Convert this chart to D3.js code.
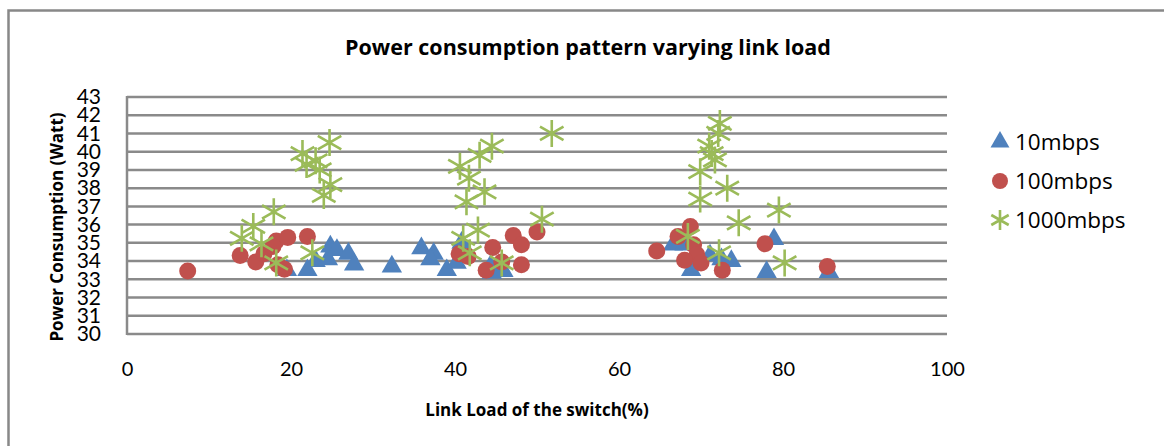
<!DOCTYPE html>
<html>
<head>
<meta charset="utf-8">
<script src="https://cdn.jsdelivr.net/npm/d3@7"></script>
<style>
  body { margin: 0; background: #fff; }
  text { font-family: Lato, "Open Sans", sans-serif; fill: #000; }
  .bold { font-family: "Open Sans", sans-serif; font-weight: bold; }
</style>
</head>
<body>
<div class="chart"></div>
<script>
// series values: link load (%) and power (Watt)
const load10 = [19.5, 22.0, 23.0, 24.5, 24.8, 25.6, 27.0, 27.7, 32.3,
    35.9, 37.4, 37.0, 39.0, 40.2, 40.8, 44.3, 44.5, 45.9,
    66.6, 68.0, 68.8, 71.1, 72.5, 73.7, 78.9, 78.0, 85.6];
const power10 = [33.5, 33.5, 34.0, 34.1, 34.8, 34.6, 34.4, 33.8, 33.7,
    34.7, 34.4, 34.1, 33.5, 33.9, 35.0, 33.7, 33.35, 33.45,
    34.9, 34.9, 33.5, 34.3, 34.1, 34.0, 35.2, 33.4, 33.4];

const load100 = [7.4, 13.8, 15.7, 16.7, 18.2, 17.8, 18.4, 19.2, 19.6, 22.0,
    40.5, 41.6, 44.6, 43.8, 45.7, 47.1, 48.1, 48.1, 50.0,
    64.6, 67.2, 68.7, 69.1, 69.5, 68.0, 70.0, 72.6, 77.8, 85.4];
const power100 = [33.45, 34.3, 33.95, 34.4, 35.1, 34.8, 33.8, 33.55, 35.3, 35.35,
    34.4, 34.25, 34.75, 33.5, 33.95, 35.4, 34.9, 33.8, 35.6,
    34.55, 35.35, 35.9, 34.9, 34.35, 34.05, 33.9, 33.5, 34.95, 33.7];

const load1000 = [14.0, 15.4, 16.4, 17.9, 18.2, 22.6, 21.4, 21.9, 23.0, 23.5, 24.7, 24.8, 24.0,
    51.8, 44.5, 43.0, 40.6, 41.7, 43.6, 41.4, 42.8, 41.0, 41.8, 45.7, 50.6,
    72.3, 72.1, 71.0, 71.3, 71.7, 69.9, 73.2, 69.9, 74.6, 79.5, 68.4, 72.2, 80.2];
const power1000 = [35.25, 35.9, 34.95, 36.7, 33.9, 34.45, 39.9, 39.3, 39.5, 39.0, 40.5, 38.2, 37.6,
    41.0, 40.3, 39.8, 39.2, 38.55, 37.8, 37.25, 35.7, 35.25, 34.45, 33.9, 36.3,
    41.55, 41.0, 40.3, 39.9, 39.55, 38.9, 38.0, 37.4, 36.1, 36.8, 35.35, 34.45, 33.9];

const seriesNames = ["10mbps", "100mbps", "1000mbps"];
const seriesColors = ["#4f81bd", "#c0504d", "#9bbb59"];
const xTicks = [0, 20, 40, 60, 80, 100];
const yTicks = d3.range(30, 44);

const chartTitle = "Power consumption pattern varying link load";
const xTitle = "Link Load of the switch(%)";
const yTitle = "Power Consumption (Watt)";

const w = 1164;
const h = 446;
const plot = { left: 127, right: 947, top: 97, bottom: 334 };

const svg = d3.select(".chart")
    .append("svg")
    .attr("width", w)
    .attr("height", h);

// outer frame (top and left edges visible)
svg.append("path")
    .attr("d", "M8.5," + h + "V10.5H" + w)
    .attr("fill", "none")
    .attr("stroke", "#888")
    .attr("stroke-width", 2.5);

const xScale = d3.scaleLinear().domain([0, 100]).range([plot.left, plot.right]);
const yScale = d3.scaleLinear().domain([30, 43]).range([plot.bottom, plot.top]);

// horizontal grid
svg.append("g")
    .selectAll("line")
    .data(yTicks)
    .enter()
    .append("line")
    .attr("x1", plot.left)
    .attr("x2", plot.right)
    .attr("y1", d => yScale(d))
    .attr("y2", d => yScale(d))
    .attr("stroke", "#8a8a8a")
    .attr("stroke-width", 2.5);

svg.append("line")
    .attr("x1", plot.left)
    .attr("x2", plot.left)
    .attr("y1", plot.top - 1)
    .attr("y2", plot.bottom + 1)
    .attr("stroke", "#8a8a8a")
    .attr("stroke-width", 2.5);

const yAxis = d3.axisLeft(yScale).tickValues(yTicks).tickSize(0).tickPadding(26);
const xAxis = d3.axisBottom(xScale).tickValues(xTicks).tickSize(0).tickPadding(28);

svg.append("g")
    .attr("transform", "translate(" + plot.left + ",0)")
    .call(yAxis)
    .call(g => g.select(".domain").remove())
    .selectAll("text")
    .style("font-size", "21px");

svg.append("g")
    .attr("transform", "translate(0," + plot.bottom + ")")
    .call(xAxis)
    .call(g => g.select(".domain").remove())
    .selectAll("text")
    .style("font-size", "20px");

// titles
svg.append("text")
    .attr("class", "bold")
    .attr("x", 588)
    .attr("y", 55)
    .attr("text-anchor", "middle")
    .style("font-size", "21.5px")
    .text(chartTitle);

svg.append("text")
    .attr("class", "bold")
    .attr("x", 537)
    .attr("y", 416)
    .attr("text-anchor", "middle")
    .style("font-size", "17px")
    .text(xTitle);

svg.append("text")
    .attr("class", "bold")
    .attr("transform", "translate(63,227) rotate(-90)")
    .attr("text-anchor", "middle")
    .style("font-size", "17px")
    .text(yTitle);

const star = r => "M0," + (-r) + "V" + r +
    "M" + (-r * 0.87) + "," + (-r * 0.5) + "L" + (r * 0.87) + "," + (r * 0.5) +
    "M" + (-r * 0.87) + "," + (r * 0.5) + "L" + (r * 0.87) + "," + (-r * 0.5);

const seriesData = [
    d3.zip(load10, power10),
    d3.zip(load100, power100),
    d3.zip(load1000, power1000)
];

function drawMarker(sel, i, big) {
    if (i === 0) {
        sel.append("path")
            .attr("d", d3.symbol().type(d3.symbolTriangle).size(big ? 180 : 155)())
            .attr("fill", seriesColors[0]);
    } else if (i === 1) {
        sel.append("circle").attr("r", big ? 8.5 : 8).attr("fill", seriesColors[1]);
    } else {
        sel.append("path").attr("d", star(big ? 13.5 : 10))
            .attr("fill", "none")
            .attr("stroke", seriesColors[2])
            .attr("stroke-width", 2.6);
    }
}

seriesData.forEach((pts, i) => {
    svg.append("g")
        .selectAll("g")
        .data(pts)
        .enter()
        .append("g")
        .attr("transform", d => "translate(" + xScale(d[0]) + "," + yScale(d[1]) + ")")
        .each(function () { drawMarker(d3.select(this), i, true); });
});

// legend
const legend = svg.append("g")
    .selectAll("g")
    .data(seriesNames)
    .enter()
    .append("g")
    .attr("transform", (d, i) => "translate(1000," + (142 + i * 39) + ")");

legend.each(function (d, i) { drawMarker(d3.select(this), i, false); });

legend.append("text")
    .attr("x", 15)
    .attr("dy", "0.35em")
    .style("font-family", "'Open Sans', sans-serif")
    .style("font-size", "22.5px")
    .text(d => d);
</script>
</body>
</html>
